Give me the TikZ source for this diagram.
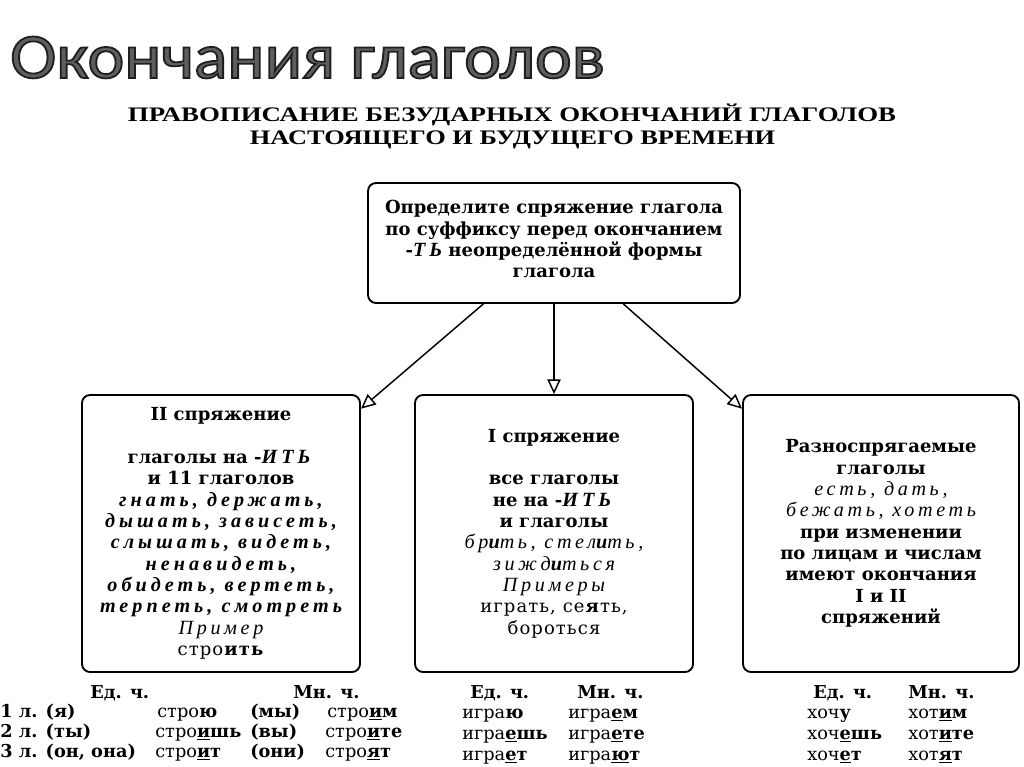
\documentclass[tikz,border=0pt]{standalone}
\usepackage{fontspec}
\usepackage{graphicx}
\usetikzlibrary{arrows.meta}
\setmainfont{DejaVu Serif}
\newfontfamily\titlefont{Carlito}
\newfontfamily\headfont{Liberation Serif}
\newfontfamily\itf[Scale=1.12,LetterSpace=18]{Liberation Serif}
\newfontfamily\bitf[Scale=1.12,LetterSpace=20]{Liberation Serif}
\newfontfamily\rgf[LetterSpace=6]{DejaVu Serif}
\newcommand\ri[1]{{\itf\itshape #1}}
\newcommand\bi[1]{{\bitf\bfseries\itshape #1}}
\newcommand\vend[2]{\underline{\textbf{#1}}\textbf{#2}}
\definecolor{titlegray}{HTML}{5E5E5E}
\tikzset{
  box/.style={draw, line width=1.4pt, rounded corners=6pt, align=center, inner sep=0pt,
    font=\fontsize{13.5pt}{16pt}\selectfont},
  arr/.style={line width=1.1pt, -{Triangle[open, length=11pt, width=10pt, line width=1.1pt]}},
  cell/.style={anchor=base west, inner sep=0pt, font=\fontsize{13.3pt}{16pt}\selectfont},
  head/.style={anchor=base, inner sep=0pt, font=\headfont\bfseries\fontsize{15.5pt}{18pt}\selectfont},
  ttl/.style={anchor=base west, inner sep=0pt},
}
\begin{document}
\begin{tikzpicture}[x=0.75pt,y=-0.75pt]
\useasboundingbox (0,0) rectangle (1024,767);
\fill[white] (0,0) rectangle (1024,767);

% title: grey body with a dark rim (fill + stroke text rendering)
\node[ttl, text=titlegray] (title) at (10,78)
  {\resizebox{446pt}{\height}{\titlefont\fontsize{48pt}{56pt}\selectfont
   \special{pdf:literal direct 2 Tr 1.3 w 0.12 0.12 0.12 RG}Окончания глаголов\special{pdf:literal direct 0 Tr}}};

% subtitle
\node[head] (sub1) at (512,122) {\resizebox{576pt}{\height}{ПРАВОПИСАНИЕ БЕЗУДАРНЫХ ОКОНЧАНИЙ ГЛАГОЛОВ}};
\node[head] (sub2) at (512.5,144) {\resizebox{394pt}{\height}{НАСТОЯЩЕГО И БУДУЩЕГО ВРЕМЕНИ}};

% boxes
\node[box, minimum width=372*0.75pt, minimum height=120*0.75pt] (top) at (554,243)
  {\textbf{Определите спряжение глагола}\\
   \textbf{по суффиксу перед окончанием}\\
   \textbf{-\bi{ТЬ} неопределённой формы}\\
   \textbf{глагола}\rule[-6pt]{0pt}{0pt}};

\node[box, minimum width=278*0.75pt, minimum height=277*0.75pt] (left) at (221,533.5)
  {\textbf{II спряжение}\\[16pt]
   \textbf{глаголы на -\bi{ИТЬ}}\\
   \textbf{и 11 глаголов}\\
   \bi{гнать, держать,}\\
   \bi{дышать, зависеть,}\\
   \bi{слышать, видеть,}\\
   \bi{ненавидеть,}\\
   \bi{обидеть, вертеть,}\\
   \bi{терпеть, смотреть}\\
   \ri{Пример}\\
   {\rgf стро\textbf{ить}}};

\node[box, minimum width=278*0.75pt, minimum height=277*0.75pt] (mid) at (554,533.5)
  {\textbf{I спряжение}\\[16pt]
   \textbf{все глаголы}\\
   \textbf{не на -\bi{ИТЬ}}\\
   \textbf{и глаголы}\\
   \ri{бр\textbf{и}ть, стел\textbf{и}ть,}\\
   \ri{зижд\textbf{и}ться}\\
   \ri{Примеры}\\
   {\rgf играть, се\textbf{я}ть,}\\
   {\rgf бороться}};

\node[box, minimum width=276*0.75pt, minimum height=277*0.75pt] (right) at (881,533.5)
  {\textbf{Разноспрягаемые}\\
   \textbf{глаголы}\\
   \ri{есть, дать,}\\
   \ri{бежать, хотеть}\\
   \textbf{при изменении}\\
   \textbf{по лицам и числам}\\
   \textbf{имеют окончания}\\
   \textbf{I и II}\\
   \textbf{спряжений}};

% arrows
\draw[arr] ([xshift=-53pt]top.south) -- ([yshift=-11pt]left.north east);
\draw[arr] (top.south) -- (mid.north);
\draw[arr] ([xshift=52pt]top.south) -- ([yshift=-11pt]right.north west);

% left table
\node[cell] (lhe) at (90,698) {\textbf{Ед. ч.}};
\node[cell] (lhm) at (293,698) {\textbf{Мн. ч.}};
\node[cell] (lp1) at (0,717) {\textbf{1 л. (я)}};
\node[cell] (lp2) at (0,737) {\textbf{2 л. (ты)}};
\node[cell] (lp3) at (0,757) {\textbf{3 л. (он,~она)}};
\node[cell] (ls1) at (157,717) {стро\textbf{ю}};
\node[cell] (ls2) at (155,737) {стро\vend{и}{шь}};
\node[cell] (ls3) at (155,757) {стро\vend{и}{т}};
\node[cell] (lq1) at (250,717) {\textbf{(мы)}};
\node[cell] (lq2) at (250,737) {\textbf{(вы)}};
\node[cell] (lq3) at (250,757) {\textbf{(они)}};
\node[cell] (lm1) at (327,717) {стро\vend{и}{м}};
\node[cell] (lm2) at (325,737) {стро\vend{и}{те}};
\node[cell] (lm3) at (325,757) {стро\vend{я}{т}};

% middle table
\node[cell] (mhe) at (470,698) {\textbf{Ед. ч.}};
\node[cell] (mhm) at (577,698) {\textbf{Мн. ч.}};
\node[cell] (ms1) at (462,718) {игра\textbf{ю}};
\node[cell] (ms2) at (462,739) {игра\vend{е}{шь}};
\node[cell] (ms3) at (462,760) {игра\vend{е}{т}};
\node[cell] (mm1) at (568,718) {игра\vend{е}{м}};
\node[cell] (mm2) at (568,739) {игра\vend{е}{те}};
\node[cell] (mm3) at (568,760) {игра\vend{ю}{т}};

% right table
\node[cell] (rhe) at (813,698) {\textbf{Ед. ч.}};
\node[cell] (rhm) at (908,698) {\textbf{Мн. ч.}};
\node[cell] (rs1) at (807,718) {хоч\textbf{у}};
\node[cell] (rs2) at (807,739) {хоч\vend{е}{шь}};
\node[cell] (rs3) at (807,760) {хоч\vend{е}{т}};
\node[cell] (rm1) at (908,718) {хот\vend{и}{м}};
\node[cell] (rm2) at (908,739) {хот\vend{и}{те}};
\node[cell] (rm3) at (908,760) {хот\vend{я}{т}};
\end{tikzpicture}
\end{document}
